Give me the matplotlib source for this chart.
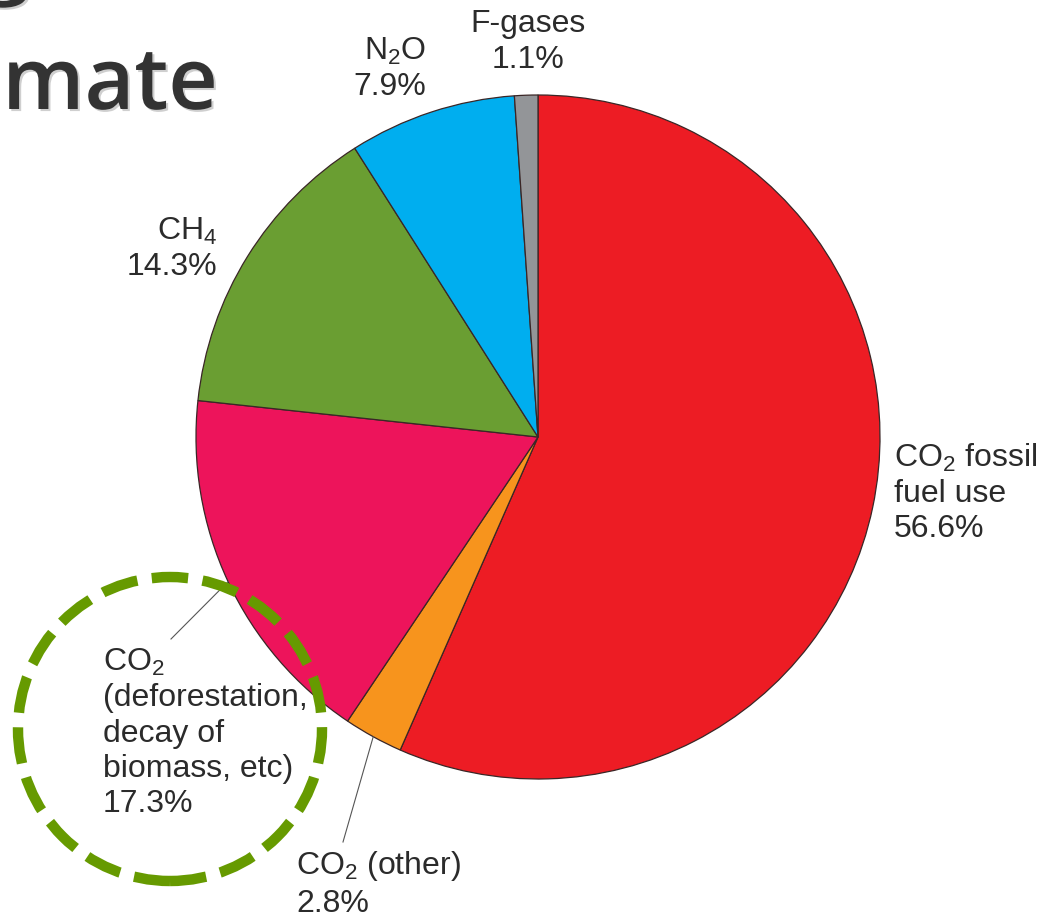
import numpy as np
import matplotlib
matplotlib.use("Agg")
import matplotlib.pyplot as plt
import matplotlib.patheffects as pe
from matplotlib.patches import Circle

plt.rcParams['font.family'] = ['Liberation Sans', 'DejaVu Sans']
plt.rcParams['mathtext.fontset'] = 'custom'
plt.rcParams['mathtext.rm'] = 'Liberation Sans'
plt.rcParams['mathtext.default'] = 'regular'

# data (clockwise from 12 o'clock)
gases = ['CO2 fossil fuel use', 'CO2 (other)', 'CO2 (deforestation, decay of biomass, etc)',
         'CH4', 'N2O', 'F-gases']
shares = [56.6, 2.8, 17.3, 14.3, 7.9, 1.1]
colors = ['#ED1C24', '#F7941D', '#ED145B', '#6A9E32', '#00AEEF', '#939598']
labels = ['CO$_2$ fossil\nfuel use\n56.6%',
          'CO$_2$ (other)\n2.8%',
          'CO$_2$\n(deforestation,\ndecay of\nbiomass, etc)\n17.3%',
          'CH$_4$\n14.3%',
          'N$_2$O\n7.9%',
          'F-gases\n1.1%']

W, H = 1054, 920
fig = plt.figure(figsize=(W / 100, H / 100), dpi=100)
ax = fig.add_axes([0, 0, 1, 1])

cx, cy, r = 538, H - 438, 342
wedges, _ = ax.pie(shares, colors=colors, startangle=90, counterclock=False,
                   center=(cx, cy), radius=r,
                   wedgeprops=dict(edgecolor='#3a2626', linewidth=0.9))
ax.set_xlim(0, W)
ax.set_ylim(0, H)
ax.set_aspect('equal')
ax.axis('off')

txt = dict(fontsize=23, color='#2b2b2b', linespacing=1.22)
# label positions in pixel coords (x, y from top)
ax.text(894, H - 493, labels[0], ha='left', va='center', **txt)
ax.text(296, H - 884, labels[1], ha='left', va='center', **txt)
ax.text(103, H - 733, labels[2], ha='left', va='center', **txt)
ax.text(217, H - 249, labels[3], ha='right', va='center', multialignment='right', **txt)
ax.text(426, H - 69, labels[4], ha='right', va='center', multialignment='right', **txt)
ax.text(528, H - 42, labels[5], ha='center', va='center', multialignment='center', **txt)

# leader lines from wedge middles
for i, end in [(1, (343, H - 843)), (2, (171, H - 640))]:
    w = wedges[i]
    mid = np.deg2rad((w.theta1 + w.theta2) / 2)
    x0, y0 = cx + r * np.cos(mid), cy + r * np.sin(mid)
    ax.plot([x0, end[0]], [y0, end[1]], color='#555555', lw=0.8)

# highlight circle
ax.add_patch(Circle((170, H - 730), 152, fill=False, edgecolor='#669A00',
                    lw=7.5, linestyle=(0, (3.5, 1.4)), zorder=5))

# slide title fragments
shadow = [pe.SimplePatchShadow(offset=(1.5, -1.5), alpha=0.2), pe.Normal()]
ax.text(218, H - 110, 'climate', ha='right', va='baseline', fontsize=62,
        family='Open Sans', weight='semibold', color='#333333', path_effects=shadow)
ax.text(30, H + 12, 'g', ha='right', va='baseline', fontsize=62,
        family='Open Sans', weight='semibold', color='#333333', path_effects=shadow)

fig.savefig('out.png', dpi=100)
